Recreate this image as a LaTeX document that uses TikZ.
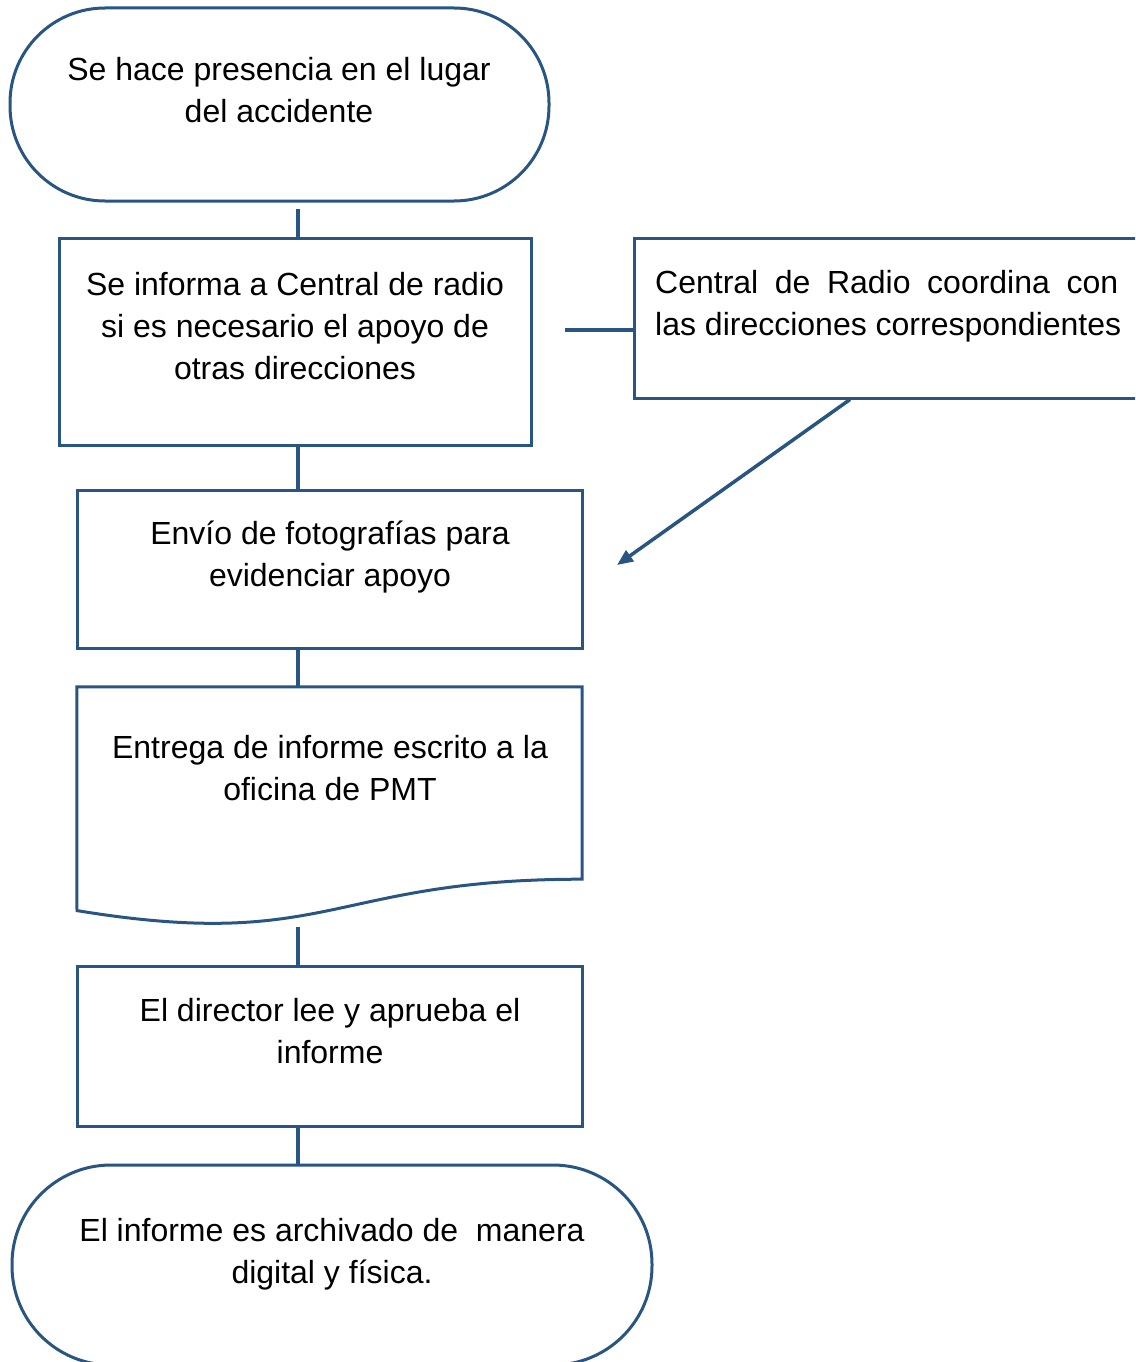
\documentclass[tikz,border=0pt]{standalone}
\usepackage{fontspec}
\setmainfont{Liberation Sans}
\usetikzlibrary{arrows.meta}
\definecolor{flowblue}{RGB}{40,85,130}
\begin{document}
\begin{tikzpicture}[x=1pt,y=-1pt,
  shapebox/.style={draw=flowblue,line width=3pt,rectangle,inner sep=0pt},
  termbox/.style={shapebox},
  ghost/.style={rectangle,inner sep=0pt},
  txt/.style={inner sep=0pt,align=center,font=\fontsize{32}{42}\selectfont},
  conn/.style={draw=flowblue,line width=4pt},
  arr/.style={draw=flowblue,line width=3.5pt,-{Triangle[length=16pt,width=13pt]}}]
\useasboundingbox (0,0) rectangle (1135,1362);
\clip (0,0) rectangle (1135,1362);
\coordinate (spine) at (298,0);

% shapes
\node[termbox,rounded corners=95,minimum width=539,minimum height=193] (term1) at (279.5,104.5) {};
\node[shapebox,minimum width=472,minimum height=207] (box2) at (295,341.5) {};
\node[shapebox,minimum width=506,minimum height=160] (box3) at (887,318) {};
\node[shapebox,minimum width=505,minimum height=158] (box4) at (329.5,569) {};
\node[ghost,minimum width=505,minimum height=192] (doc) at (329.5,783) {};
\draw[shapebox] (doc.south east) -- (doc.north east) -- (doc.north west) -- (77,910.6)
  .. controls (329.5,952) and (329.5,879) .. (doc.south east) -- cycle;
\node[shapebox,minimum width=505,minimum height=160] (box6) at (329.5,1046) {};
\node[termbox,rounded corners=99,minimum width=640,minimum height=200] (term2) at (332,1265) {};

% texts
\node[txt] (t1) at (279,90) {Se hace presencia en el lugar\\del accidente};
\node[txt] (t2) at (295,326) {Se informa a Central de radio\\si es necesario el apoyo de\\otras direcciones};
\node[txt,align=left,anchor=west] (t3) at (655,306) {\makebox[463pt][s]{Central de Radio coordina con}\\\mbox{las direcciones correspondientes}};
\node[txt] (t4) at (330,557) {Envío de fotografías para\\evidenciar apoyo};
\node[txt] (t5) at (330,768) {Entrega de informe escrito a la\\oficina de PMT};
\node[txt] (t6) at (330,1031) {El director lee y aprueba el\\informe};
\node[txt] (t7) at (332,1254) {El informe es archivado de~ manera\\digital y física.};

% connectors
\coordinate (arrend) at (617,565);
\coordinate (hstart) at ([xshift=32pt,yshift=12pt]box2.east);
\draw[conn] ([yshift=-6pt]term1.south -| spine) -- (box2.north -| spine);
\draw[conn] (hstart) -- (hstart -| box3.west);
\draw[arr] (box3.south -| 850,0) -- (arrend);
\draw[conn] (box2.south -| spine) -- (box4.north -| spine);
\draw[conn] (box4.south -| spine) -- (doc.north -| spine);
\draw[conn] (298,927) -- (box6.north -| spine);
\draw[conn] (box6.south -| spine) -- (term2.north -| spine);
\end{tikzpicture}
\end{document}
